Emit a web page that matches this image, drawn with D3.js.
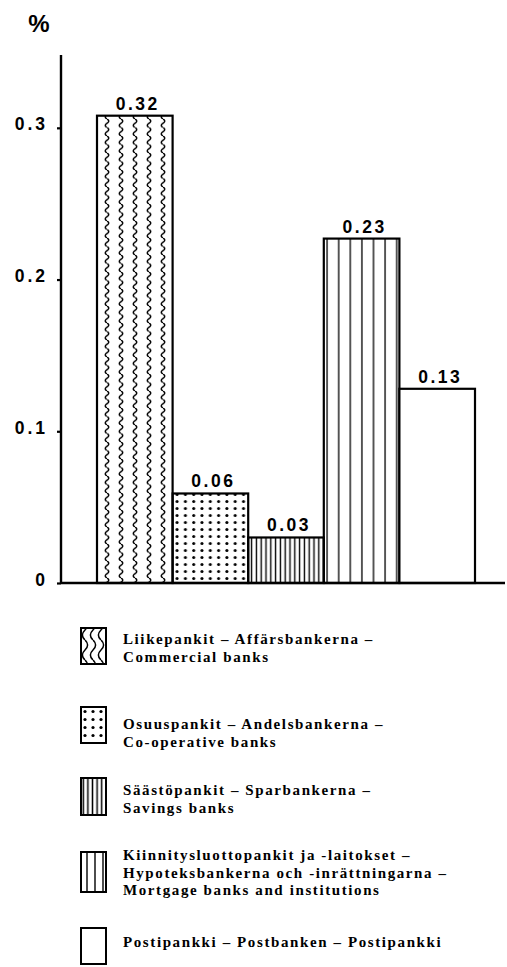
<!DOCTYPE html>
<html>
<head>
<meta charset="utf-8">
<script src="https://cdn.jsdelivr.net/npm/d3@7"></script>
<style>
  html, body { margin: 0; padding: 0; background: #fff; }
  svg { display: block; }
</style>
</head>
<body>
<div id="wrapper"></div>
<script>
// data
const categories = ["commercial", "cooperative", "savings", "mortgage", "postal"];
const valueLabels = ["0.32", "0.06", "0.03", "0.23", "0.13"];
// bar heights as actually drawn in the original (the 0.32 bar is drawn a bit short)
const barHeights = [0.308, 0.059, 0.030, 0.227, 0.128];
const patterns = ["wave", "dots", "dense", "lines", "none"];
const yTicks = [0, 0.1, 0.2, 0.3];
const legendText = [
  ["Liikepankit – Affärsbankerna –", "Commercial banks"],
  ["Osuuspankit – Andelsbankerna –", "Co-operative banks"],
  ["Säästöpankit – Sparbankerna –", "Savings banks"],
  ["Kiinnitysluottopankit ja -laitokset –", "Hypoteksbankerna och -inrättningarna –", "Mortgage banks and institutions"],
  ["Postipankki – Postbanken – Postipankki"]
];

const width = 507, height = 967;

const svg = d3.select("#wrapper").append("svg")
  .attr("width", width)
  .attr("height", height);

const defs = svg.append("defs");

// scales
const x = d3.scaleBand().domain(categories).range([97, 475]).padding(0);
const y = d3.scaleLinear().domain([0, 0.348]).range([583, 55]);

// patterns
function wavePattern(id, w, period, amp, x0, sw) {
  const p = defs.append("pattern").attr("id", id)
    .attr("patternUnits", "userSpaceOnUse")
    .attr("x", x0).attr("y", 0)
    .attr("width", w).attr("height", period);
  const c = w / 2, q = period / 4;
  p.append("path")
    .attr("d", `M${c},0 Q${c + amp * 2},${q} ${c},${2 * q} Q${c - amp * 2},${3 * q} ${c},${period}`)
    .attr("fill", "none").attr("stroke", "#000").attr("stroke-width", sw);
}
wavePattern("wave", 14, 8.5, 1.8, x("commercial") + 3, 1.4);
wavePattern("waveBig", 8, 20, 2.6, 81, 1.5);

const dots = defs.append("pattern").attr("id", "dots")
  .attr("patternUnits", "userSpaceOnUse")
  .attr("x", x("cooperative")).attr("y", 1)
  .attr("width", 8.3).attr("height", 7);
dots.append("circle").attr("cx", 4.5).attr("cy", 3.5).attr("r", 1.5).attr("fill", "#000");

const dots2 = defs.append("pattern").attr("id", "dotsLegend")
  .attr("patternUnits", "userSpaceOnUse")
  .attr("x", 81).attr("y", 707)
  .attr("width", 8).attr("height", 8);
dots2.append("circle").attr("cx", 4).attr("cy", 4.5).attr("r", 1.6).attr("fill", "#000");

function linePattern(id, w, x0, sw) {
  const p = defs.append("pattern").attr("id", id)
    .attr("patternUnits", "userSpaceOnUse")
    .attr("x", x0).attr("y", 0)
    .attr("width", w).attr("height", 10);
  p.append("line").attr("x1", w / 2).attr("x2", w / 2).attr("y1", 0).attr("y2", 10)
    .attr("stroke", "#000").attr("stroke-width", sw);
}
linePattern("dense", 4.8, x("savings") + 1, 1.4);
linePattern("lines", 11.6, x("mortgage") - 2.5, 1.3);
linePattern("denseLegend", 4.6, 81, 1.5);
linePattern("linesLegend", 8, 83, 1.4);

const fillFor = { wave: "url(#wave)", dots: "url(#dots)", dense: "url(#dense)", lines: "url(#lines)", none: "#fff" };
const legendFill = { wave: "url(#waveBig)", dots: "url(#dotsLegend)", dense: "url(#denseLegend)", lines: "url(#linesLegend)", none: "#fff" };

// y axis
const yAxis = d3.axisLeft(y)
  .tickValues(yTicks)
  .tickSize(4)
  .tickPadding(9)
  .tickFormat(d => d === 0 ? "0" : d3.format(".1f")(d));

const gy = svg.append("g")
  .attr("transform", "translate(61,0)")
  .call(yAxis);
gy.select(".domain").remove();
gy.append("line")
  .attr("x1", 0).attr("x2", 0)
  .attr("y1", y.range()[1]).attr("y2", y(0))
  .attr("stroke", "#000").attr("stroke-width", 2.4);
gy.selectAll(".tick line").attr("stroke", "#000").attr("stroke-width", 2.2);
gy.selectAll(".tick text")
  .attr("fill", "#000")
  .attr("font-family", "Liberation Sans, Arial, sans-serif")
  .attr("font-weight", "bold")
  .attr("font-size", 17.5)
  .attr("letter-spacing", 3)
  .attr("dy", "0.12em");

// % label
svg.append("text")
  .attr("x", 39).attr("y", 32)
  .attr("text-anchor", "middle")
  .attr("font-family", "Liberation Sans, Arial, sans-serif")
  .attr("font-weight", "bold")
  .attr("font-size", 24)
  .text("%");

// bars
const bars = svg.append("g")
  .selectAll("g")
  .data(categories)
  .enter()
  .append("g");

bars.append("rect")
  .attr("x", d => x(d))
  .attr("y", (d, i) => y(barHeights[i]))
  .attr("width", x.bandwidth())
  .attr("height", (d, i) => y(0) - y(barHeights[i]))
  .attr("fill", (d, i) => fillFor[patterns[i]])
  .attr("stroke", "#000")
  .attr("stroke-width", 2.2);

bars.append("text")
  .attr("x", d => x(d) + x.bandwidth() / 2 + 3)
  .attr("y", (d, i) => y(barHeights[i]) - 6)
  .attr("text-anchor", "middle")
  .attr("font-family", "Liberation Sans, Arial, sans-serif")
  .attr("font-weight", "bold")
  .attr("font-size", 17.5)
  .attr("letter-spacing", 2.5)
  .text((d, i) => valueLabels[i]);

// baseline
svg.append("line")
  .attr("x1", 61).attr("x2", 505)
  .attr("y1", y(0)).attr("y2", y(0))
  .attr("stroke", "#000").attr("stroke-width", 2.4);

// legend
const swatchTop = [628, 707, 778, 852, 928];
const swatchH = [36, 36, 37, 40, 36];
const textTop = [644, 729, 795, 860, 947];
const lineGap = 17.5;

const leg = svg.append("g")
  .selectAll("g")
  .data(categories)
  .enter()
  .append("g");

leg.append("rect")
  .attr("x", 81)
  .attr("y", (d, i) => swatchTop[i])
  .attr("width", 25)
  .attr("height", (d, i) => swatchH[i])
  .attr("fill", (d, i) => legendFill[patterns[i]])
  .attr("stroke", "#000")
  .attr("stroke-width", 2);

leg.append("text")
  .attr("font-family", "Liberation Serif, 'Times New Roman', serif")
  .attr("font-weight", "bold")
  .attr("font-size", 15)
  .attr("letter-spacing", 1.6)
  .attr("fill", "#000")
  .selectAll("tspan")
  .data((d, i) => legendText[i].map(t => ({ t, i })))
  .enter()
  .append("tspan")
  .attr("x", 123)
  .attr("y", (d, j) => textTop[d.i] + j * lineGap)
  .text(d => d.t);
</script>
</body>
</html>
